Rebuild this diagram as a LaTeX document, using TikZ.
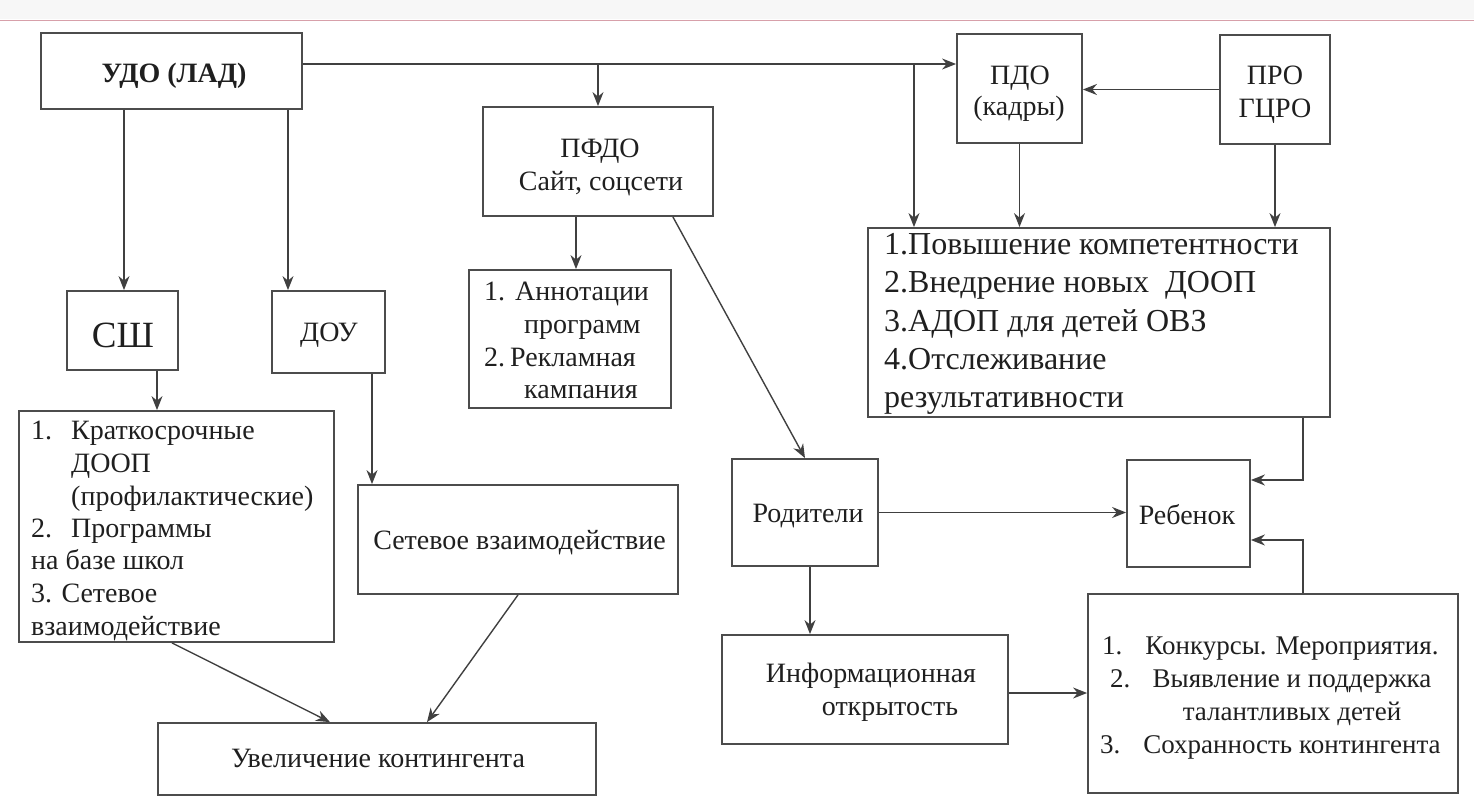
\documentclass[tikz,border=0pt]{standalone}
\usepackage{fontspec}
\setmainfont{Liberation Serif}
\usetikzlibrary{arrows.meta,calc}
\begin{document}
\begin{tikzpicture}[x=1pt,y=-1pt,
  box/.style={draw=black!70,line width=1.8pt,inner sep=0pt},
  arr/.style={draw=black!75,line width=1.4pt,-{Stealth[length=14pt,width=11pt,inset=4.5pt]}},
  t/.style={inner sep=0pt,text=black!88,font=\fontsize{28}{33}\selectfont,anchor=base west},
  tc/.style={t,anchor=base},
  tk/.style={t,font=\fontsize{27}{33}\selectfont},
  tkc/.style={tk,anchor=base},
  tb/.style={t,font=\fontsize{32}{38}\selectfont},
]
\useasboundingbox (0,0) rectangle (1474,811);
\fill[black!3] (0,0) rectangle (1474,19);
\draw[draw={rgb,255:red,215;green,160;blue,170},line width=1pt] (0,20) -- (1474,20);

% boxes
\node[box,minimum width=261pt,minimum height=76pt]  (udo)  at (171.5,71) {};
\node[box,minimum width=230pt,minimum height=109pt] (pfdo) at (598,161.5) {};
\node[box,minimum width=125pt,minimum height=109pt] (pdo)  at (1019.5,88.5) {};
\node[box,minimum width=110pt,minimum height=109pt] (pro)  at (1275,89.5) {};
\node[box,minimum width=111pt,minimum height=79pt]  (sh)   at (122.5,330.5) {};
\node[box,minimum width=113pt,minimum height=82pt]  (dou)  at (328.5,332) {};
\node[box,minimum width=202pt,minimum height=138pt] (ann)  at (570,339) {};
\node[box,minimum width=462pt,minimum height=189pt] (pov)  at (1099,322.5) {};
\node[box,minimum width=315pt,minimum height=231pt] (krat) at (176.5,526.5) {};
\node[box,minimum width=320pt,minimum height=109pt] (set)  at (518,539.5) {};
\node[box,minimum width=146pt,minimum height=107pt] (rod)  at (805,512.5) {};
\node[box,minimum width=123pt,minimum height=107pt] (reb)  at (1188.5,513.5) {};
\node[box,minimum width=286pt,minimum height=109pt] (inf)  at (865,689.5) {};
\node[box,minimum width=370pt,minimum height=199pt] (kon)  at (1273,693.5) {};
\node[box,minimum width=438pt,minimum height=72pt]  (uvel) at (377,759) {};

% texts
\node[tc,font=\bfseries\fontsize{28}{30}\selectfont] (udo-t) at (174,82) {УДО (ЛАД)};
\node[tc] (pfdo-t1) at (600,157) {ПФДО};
\node[tc] (pfdo-t2) at (601,190) {Сайт, соцсети};
\node[tc] (pdo-t1) at (1020,84) {ПДО};
\node[tc] (pdo-t2) at (1019,115) {(кадры)};
\node[tc] (pro-t1) at (1275,84) {ПРО};
\node[tc] (pro-t2) at (1275,117) {ГЦРО};
\node[tc,font=\fontsize{37}{40}\selectfont] (sh-t) at (123,347) {СШ};
\node[tc] (dou-t) at (329,341) {ДОУ};

\node[t] (ann-n1) at (484,300) {1.};
\node[t] (ann-a1) at (515,300) {Аннотации};
\node[t] (ann-a2) at (524,333) {программ};
\node[t] (ann-n2) at (484,366) {2.};
\node[t] (ann-b1) at (510,366) {Рекламная};
\node[t] (ann-b2) at (524,398) {кампания};

\node[tb] (pov-1) at (884,254) {1.Повышение компетентности};
\node[tb] (pov-2) at (884,292) {2.Внедрение новых\ \ ДООП};
\node[tb] (pov-3) at (884,331) {3.АДОП для детей ОВЗ};
\node[tb] (pov-4) at (884,369) {4.Отслеживание};
\node[tb] (pov-5) at (884,407) {результативности};

\node[t] (krat-n1) at (31,439) {1.};
\node[t] (krat-1) at (71,439) {Краткосрочные};
\node[t] (krat-2) at (71,472) {ДООП};
\node[t] (krat-3) at (71,505) {(профилактические)};
\node[t] (krat-n2) at (31,537) {2.};
\node[t] (krat-4) at (71,537) {Программы};
\node[t] (krat-5) at (31,569) {на базе школ};
\node[t] (krat-6) at (31,602) {3. Сетевое};
\node[t] (krat-7) at (31,635) {взаимодействие};

\node[tc] (set-t) at (519.5,549) {Сетевое взаимодействие};
\node[tc] (uvel-t) at (378,767) {Увеличение контингента};
\node[tc] (rod-t) at (808,522) {Родители};
\node[tc] (reb-t) at (1187,524) {Ребенок};
\node[tc] (inf-t1) at (871,682) {Информационная};
\node[tc] (inf-t2) at (890,715) {открытость};

\node[tk] (kon-n1) at (1102,654) {1.};
\node[tkc] (kon-1) at (1292,654) {Конкурсы. Мероприятия.};
\node[tk] (kon-n2) at (1110,687) {2.};
\node[tkc] (kon-2) at (1292,687) {Выявление и поддержка};
\node[tkc] (kon-3) at (1292,720) {талантливых детей};
\node[tk] (kon-n3) at (1100,753) {3.};
\node[tkc] (kon-4) at (1292,753) {Сохранность контингента};

% connectors
\coordinate (j1) at (598,64);
\coordinate (j2) at (914,64);
\coordinate (c124) at (124,0);
\coordinate (c288) at (288,0);
\coordinate (c576) at (576,0);
\coordinate (c157) at (157,0);
\coordinate (c372) at (372,0);
\coordinate (c810) at (810,0);
\coordinate (y693) at (0,693);
\coordinate (k1) at (1303,480);
\coordinate (k2) at (1303,540);

\draw[arr] (udo.east |- j1) -- (pdo.west |- j1);
\draw[arr] (j1) -- (j1 |- pfdo.north);
\draw[arr] (j2) -- (j2 |- pov.north);
\draw[arr] (c124 |- udo.south) -- (c124 |- sh.north);
\draw[arr] (c288 |- udo.south) -- (c288 |- dou.north);
\draw[arr] (pro.west) -- (pdo.east |- pro.west);
\draw[arr] (pdo.south) -- (pdo.south |- pov.north);
\draw[arr] (pro.south) -- (pro.south |- pov.north);
\draw[arr] (c576 |- pfdo.south) -- (c576 |- ann.north);
\draw[arr] ([xshift=-41pt]pfdo.south east) -- (rod.north);
\draw[arr] (c157 |- sh.south) -- (c157 |- krat.north);
\draw[arr] (c372 |- dou.south) -- (c372 |- set.north);
\draw[arr] ([xshift=-4.5pt]krat.south) -- ([xshift=-47pt]uvel.north);
\draw[arr] (set.south) -- ([xshift=50pt]uvel.north);
\draw[arr] (rod.east) -- (reb.west |- rod.east);
\draw[arr] (c810 |- rod.south) -- (c810 |- inf.north);
\draw[arr] (inf.east |- y693) -- (kon.west |- y693);
\draw[arr] (k1 |- pov.south) -- (k1) -- (reb.east |- k1);
\draw[arr] (k2 |- kon.north) -- (k2) -- (reb.east |- k2);
\end{tikzpicture}
\end{document}
